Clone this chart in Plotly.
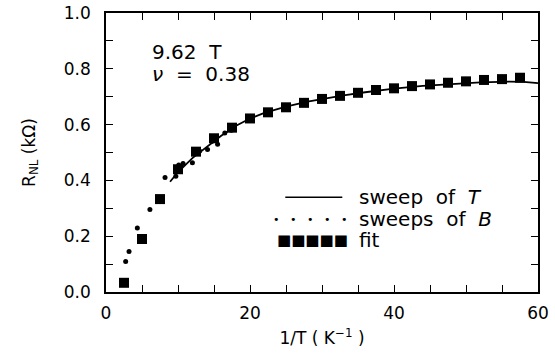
import plotly.graph_objects as go

# fit (squares)
fit_x = [2.5, 5, 7.5, 10, 12.5, 15, 17.5, 20, 22.5, 25, 27.5, 30, 32.5, 35, 37.5, 40,
         42.5, 45, 47.5, 50, 52.5, 55, 57.5]
fit_y = [0.033, 0.19, 0.333, 0.44, 0.503, 0.551, 0.589, 0.622, 0.644, 0.662, 0.678, 0.692,
         0.703, 0.714, 0.724, 0.730, 0.738, 0.744, 0.750, 0.755, 0.760, 0.763, 0.768]

# sweep of T (solid line)
sweepT_x = [8.9, 10, 12, 14, 16, 18, 20, 22, 25, 28, 30, 33, 36, 40, 44, 48, 52, 56, 58, 60]
sweepT_y = [0.395, 0.43, 0.48, 0.52, 0.56, 0.595, 0.622, 0.642, 0.664, 0.682, 0.692, 0.705,
            0.716, 0.729, 0.739, 0.746, 0.751, 0.754, 0.753, 0.749]

# sweeps of B (dots)
sweepB_x = [2.73, 3.2, 4.35, 6.1, 8.2, 9.7, 10.1, 10.7, 12.0, 12.3, 13.0, 14.1, 14.7, 15.5, 16.5, 17.4]
sweepB_y = [0.109, 0.145, 0.229, 0.296, 0.41, 0.415, 0.455, 0.461, 0.463, 0.50, 0.505, 0.511,
            0.54, 0.53, 0.57, 0.58]

x_ticks = [0, 5, 10, 15, 20, 25, 30, 35, 40, 45, 50, 55, 60]
x_ticklabels = ["0", " ", " ", " ", "20", " ", " ", " ", "40", " ", " ", " ", "60"]
y_ticks = [0, 0.1, 0.2, 0.3, 0.4, 0.5, 0.6, 0.7, 0.8, 0.9, 1.0]
y_ticklabels = ["0.0", " ", "0.2", " ", "0.4", " ", "0.6", " ", "0.8", " ", "1.0"]

FONT = "DejaVu Sans"

fig = go.Figure()
fig.add_trace(go.Scatter(x=sweepT_x, y=sweepT_y, mode="lines",
                         line=dict(color="black", width=1.8), showlegend=False))
fig.add_trace(go.Scatter(x=sweepB_x, y=sweepB_y, mode="markers",
                         marker=dict(color="black", size=5, symbol="circle"), showlegend=False))
fig.add_trace(go.Scatter(x=fit_x, y=fit_y, mode="markers",
                         marker=dict(color="black", size=10, symbol="square"), showlegend=False))

axis_common = dict(showline=True, linecolor="black", linewidth=1.5, mirror="ticks",
                   ticks="inside", ticklen=7, tickcolor="black", tickwidth=1.2,
                   showgrid=False, zeroline=False, automargin=False,
                   tickfont=dict(family=FONT, size=17, color="black"))

fig.update_xaxes(range=[0, 60], tickvals=x_ticks, ticktext=x_ticklabels,
                 ticklabelstandoff=5,
                 title=dict(text="1/T ( K<sup>\u22121</sup> )", font=dict(family=FONT, size=17, color="black"),
                            standoff=10),
                 **axis_common)
fig.update_yaxes(range=[0, 1.0], tickvals=y_ticks, ticktext=y_ticklabels,
                 ticklabelstandoff=10,
                 title=dict(text="R<sub>NL</sub> (k\u03a9)", font=dict(family=FONT, size=17, color="black"),
                            standoff=24),
                 **axis_common)

ann_font = dict(family=FONT, size=20, color="black")
leg_font = dict(family=FONT, size=20, color="black")
annotations = [
    dict(x=0.102, y=0.86, xref="paper", yref="paper", text="9.62  T", showarrow=False,
         xanchor="left", yanchor="middle", font=ann_font),
    dict(x=0.102, y=0.78, xref="paper", yref="paper", text="<i>\u03bd</i>  =  0.38", showarrow=False,
         xanchor="left", yanchor="middle", font=ann_font),
    dict(x=0.58, y=0.34, xref="paper", yref="paper", text="sweep  of  <i>T</i>", showarrow=False,
         xanchor="left", yanchor="middle", font=leg_font),
    dict(x=0.58, y=0.26, xref="paper", yref="paper", text="sweeps  of  <i>B</i>", showarrow=False,
         xanchor="left", yanchor="middle", font=leg_font),
    dict(x=0.58, y=0.185, xref="paper", yref="paper", text="fit", showarrow=False,
         xanchor="left", yanchor="middle", font=leg_font),
    dict(x=0.562, y=0.26, xref="paper", yref="paper", text="\u2022   \u2022   \u2022   \u2022   \u2022", showarrow=False,
         xanchor="right", yanchor="middle", font=dict(family=FONT, size=11, color="black")),
    dict(x=0.565, y=0.185, xref="paper", yref="paper", text="\u25a0\u25a0\u25a0\u25a0\u25a0", showarrow=False,
         xanchor="right", yanchor="middle", font=dict(family="DejaVu Sans", size=15, color="black")),
]
fig.update_layout(
    width=555, height=356,
    margin=dict(l=106, r=17, t=13, b=64),
    plot_bgcolor="white", paper_bgcolor="white",
    showlegend=False,
    annotations=annotations,
    shapes=[dict(type="line", xref="paper", yref="paper", x0=0.415, x1=0.547, y0=0.34, y1=0.34,
                 line=dict(color="black", width=1.5))],
)
fig.write_html("out.html")
